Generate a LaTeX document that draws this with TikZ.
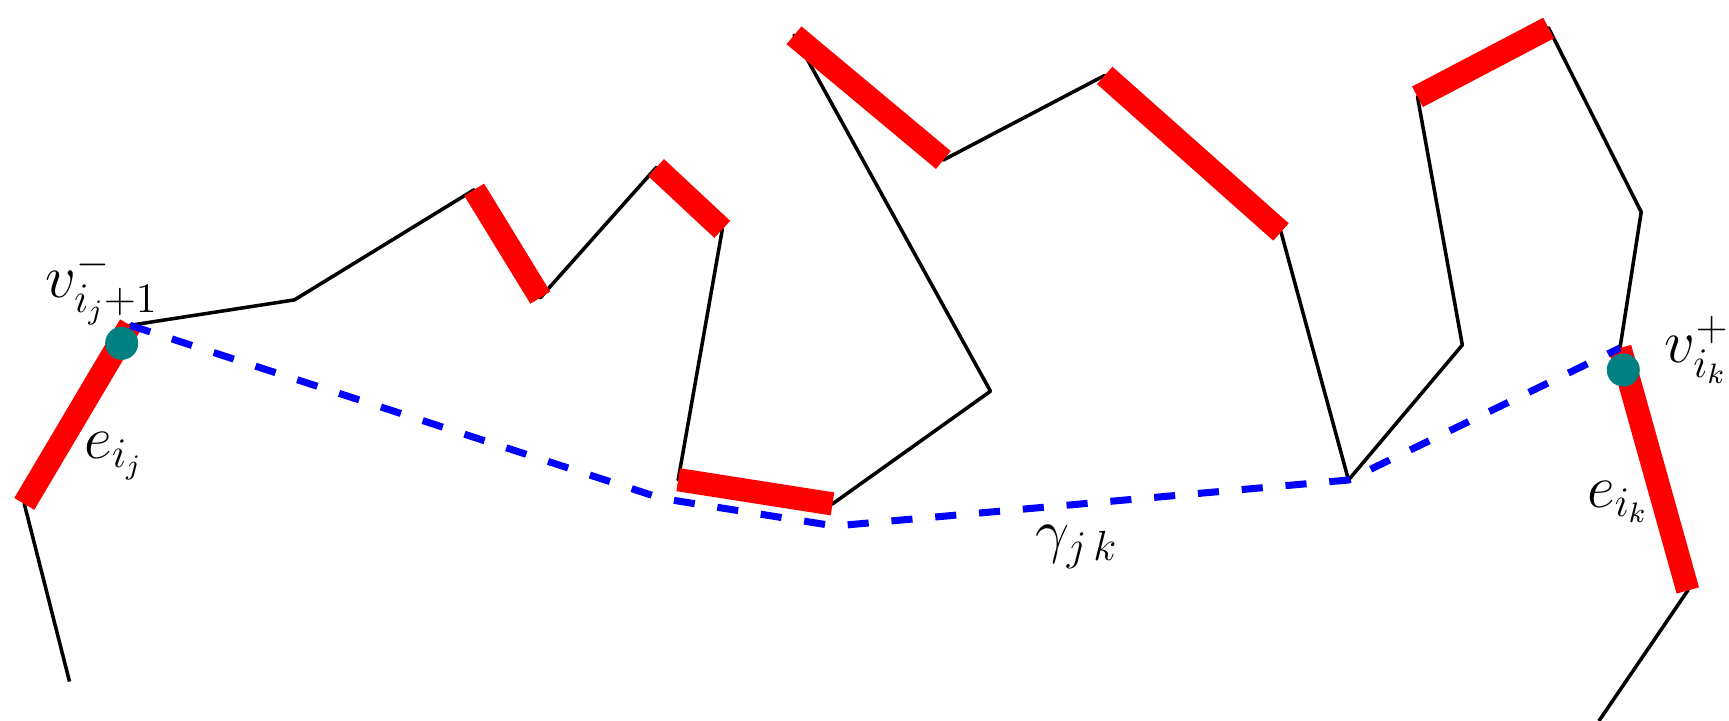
\documentclass[tikz,border=0pt]{standalone}
\usepackage{tikz}
\definecolor{dotteal}{RGB}{0,128,128}
\begin{document}
\begin{tikzpicture}[x=0.01cm,y=-0.01cm,
  blk/.style={black,line width=1pt,line join=round},
  redseg/.style={red,line width=6.6pt},
  geod/.style={blue,line width=2pt,dash pattern=on 6pt off 6.5pt},
  vdot/.style={circle,fill=dotteal,inner sep=0,minimum size=0.33cm},
  lbl/.style={inner sep=0,font=\fontsize{16.5}{18}\selectfont}]
\useasboundingbox (0,0) rectangle (1729,721);
% vertices
\coordinate (p0) at (69.5,681.5);
\coordinate (p1) at (24.3,503.9);
\coordinate (p2) at (130.1,325.3);
\coordinate (p3) at (294.4,299.9);
\coordinate (p4) at (474.2,189.7);
\coordinate (p5) at (540.3,297.7);
\coordinate (p6) at (656.1,167.6);
\coordinate (p7) at (722.3,229.4);
\coordinate (p8) at (678.2,479.7);
\coordinate (p9) at (832.5,503.9);
\coordinate (p10) at (990.5,391.2);
\coordinate (p11) at (794.0,35.3);
\coordinate (p12) at (943.4,160.0);
\coordinate (p13) at (1104.7,75.4);
\coordinate (p14) at (1281.0,232.0);
\coordinate (p15) at (1348.5,480.0);
\coordinate (p16) at (1462.3,345.0);
\coordinate (p17) at (1417.5,96.8);
\coordinate (p18) at (1548.6,28.0);
\coordinate (p19) at (1641.2,212.0);
\coordinate (p20) at (1620.0,348.0);
\coordinate (p21) at (1687.8,590.5);
\coordinate (p22) at (1598.9,721);
\coordinate (d1) at (661.6,498.4);
\coordinate (d2) at (834.7,526.0);
% black polygonal path
\draw[blk] (p0) -- (p1) -- (p2) -- (p3) -- (p4) -- (p5) -- (p6) -- (p7) -- (p8) -- (p9) -- (p10) -- (p11) -- (p12) -- (p13) -- (p14) -- (p15) -- (p16) -- (p17) -- (p18) -- (p19) -- (p20) -- (p21) -- (p22);
% red edges
\draw[redseg] (p1) -- (p2);
\draw[redseg] (p4) -- (p5);
\draw[redseg] (p6) -- (p7);
\draw[redseg] (p8) -- (p9);
\draw[redseg] (p11) -- (p12);
\draw[redseg] (p13) -- (p14);
\draw[redseg] (p17) -- (p18);
\draw[redseg] (p20) -- (p21);
% geodesic
\draw[geod] (p2) -- (d1) -- (d2) -- (p15) -- (p20);
% endpoints
\node[vdot] (dj) at (121.7,343.3) {};
\node[vdot] (dk) at (1623.3,370.0) {};
% labels
\node[lbl] (lvj) at (102,288) {$v^-_{i_j+1}$};
\node[lbl] (lej) at (114,456) {$e_{i_j}$};
\node[lbl] (lg) at (1077,547) {$\gamma_{j\,k}$};
\node[lbl] (lek) at (1618,502) {$e_{i_k}$};
\node[lbl,anchor=west] (lvk) at (1664,350) {$v^+_{i_k}$};
\end{tikzpicture}
\end{document}
